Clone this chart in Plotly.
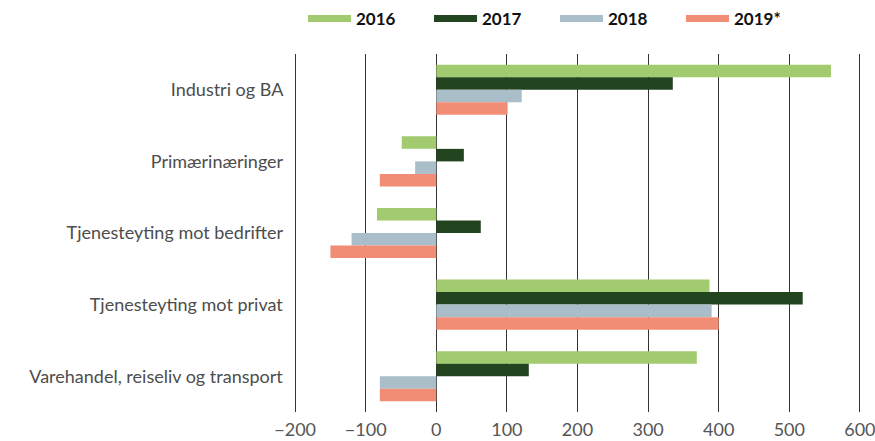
import plotly.graph_objects as go

categories = ["Industri og BA", "Primærinæringer", "Tjenesteyting mot bedrifter",
              "Tjenesteyting mot privat", "Varehandel, reiseliv og transport"]
series_names = ["2016", "2017", "2018", "2019*"]
v2016 = [559, -49, -84, 387, 369]
v2017 = [335, 39, 63, 519, 131]
v2018 = [121, -30, -120, 390, -80]
v2019 = [101, -80, -150, 400, -80]
colors = ["#a2ca6e", "#22441f", "#a9bec8", "#f28d75"]
x_ticks = [-200, -100, 0, 100, 200, 300, 400, 500, 600]

values = [v2016, v2017, v2018, v2019]

fig = go.Figure()
for name, vals, col in zip(series_names, values, colors):
    fig.add_trace(go.Bar(y=categories, x=vals, orientation="h", name=name,
                         marker=dict(color=col, line=dict(width=0)),
                         showlegend=False))
for name, col in zip(series_names, colors):
    fig.add_trace(go.Scatter(x=[None], y=[None], mode="lines", name=name,
                             line=dict(color=col, width=7), showlegend=True,
                             hoverinfo="skip"))

fam = "Lato, 'DejaVu Sans', sans-serif"
fig.update_layout(
    width=875, height=441,
    margin=dict(l=293, r=13, t=54, b=29, autoexpand=False),
    paper_bgcolor="white", plot_bgcolor="white",
    barmode="group", bargap=0.3, bargroupgap=0.0,
    xaxis=dict(range=[-203, 603], tickvals=x_ticks,
               ticktext=[("\u2212" + str(-t)) if t < 0 else str(t) for t in x_ticks],
               showgrid=True, gridcolor="#333333", gridwidth=1,
               zeroline=True, zerolinecolor="#333333", zerolinewidth=1,
               showline=False, ticks="", automargin=False, ticklabelstandoff=5,
               ticklabeloverflow="allow",
               tickfont=dict(family=fam, size=18, color="#555555")),
    yaxis=dict(autorange="reversed", showgrid=False, zeroline=False, showline=False,
               ticks="", ticklen=0, automargin=False, ticksuffix="  ",
               tickfont=dict(family=fam, size=18, color="#4d4d4d")),
    legend=dict(orientation="h", xref="paper", yref="paper",
                x=0.0176, y=1.098, xanchor="left", yanchor="middle",
                font=dict(family=fam, size=17, color="#111111", weight="bold"),
                itemwidth=43, entrywidth=68, entrywidthmode="pixels",
                traceorder="normal"),
)
fig.write_html("out.html", config={"displayModeBar": False},
               post_script="document.body.style.margin='0';")
